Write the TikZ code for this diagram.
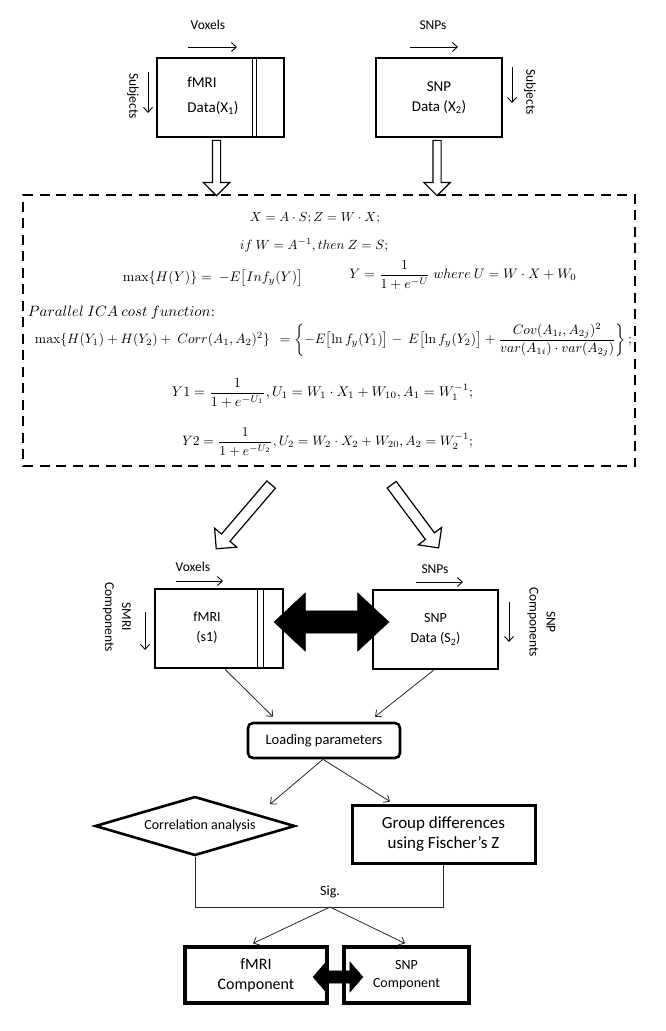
\documentclass[tikz,border=0pt]{standalone}
\usepackage[no-math]{fontspec}
\setmainfont{Carlito}
\usepackage{amsmath}
\usepackage{graphicx}
\usetikzlibrary{shapes.geometric,shapes.arrows,arrows.meta,calc}
\begin{document}
\begin{tikzpicture}[x=1pt,y=-1pt,
  thickbox/.style={draw, line width=2.6pt, inner sep=0pt, align=center},
  lbl/.style={font=\fontsize{13.5}{17}\selectfont, inner sep=0pt, align=center},
  boxtxt/.style={font=\fontsize{15}{20}\selectfont, inner sep=0pt, align=center},
  eqn/.style={inner sep=0pt},
  thinarrow/.style={line width=0.9pt, -{Straight Barb[length=5pt,width=9pt]}},
  conn/.style={line width=0.8pt, black!85, -{Straight Barb[length=5pt,width=9pt]}},
  plainline/.style={line width=0.8pt, black!85},
  hollow/.style={single arrow, draw, line width=1.2pt, fill=white, inner xsep=0pt,
    single arrow tip angle=90, single arrow head indent=0pt},
  blackarrow/.style={double arrow, fill=black, draw=black, inner xsep=0pt, double arrow head indent=0pt}
]
\useasboundingbox (0,0) rectangle (666,1031);

% ---------- top boxes ----------
\node[thickbox, minimum width=127pt, minimum height=79pt] (fmri1) at (220.5,97.5) {};
\draw[line width=0.8pt] ([xshift=31.5pt]fmri1.north) -- ([xshift=31.5pt]fmri1.south);
\draw[line width=0.8pt] ([xshift=35.5pt]fmri1.north) -- ([xshift=35.5pt]fmri1.south);
\node[boxtxt] (fmri1a) at (202,82) {fMRI};
\node[boxtxt] (fmri1b) at (213,108) {Data(X\textsubscript{1})};

\node[thickbox, boxtxt, minimum width=126pt, minimum height=79pt] (snp1) at (439,97.5) {SNP\\Data (X\textsubscript{2})};

\node[lbl] (vox1) at (208,25) {Voxels};
\coordinate (vox1a) at (188,47); \coordinate (vox1b) at (237,47);
\draw[thinarrow] (vox1a) -- (vox1b);
\node[lbl, rotate=-90] (subj1) at (133,96) {Subjects};
\coordinate (subj1a) at (148,72); \coordinate (subj1b) at (148,113);
\draw[thinarrow] (subj1a) -- (subj1b);

\node[lbl] (snps1) at (433,25) {SNPs};
\coordinate (snps1a) at (410,47); \coordinate (snps1b) at (458,47);
\draw[thinarrow] (snps1a) -- (snps1b);
\node[lbl, rotate=-90] (subj2) at (530,92) {Subjects};
\coordinate (subj2a) at (512,67); \coordinate (subj2b) at (512,103);
\draw[thinarrow] (subj2a) -- (subj2b);

% ---------- dashed ICA box ----------
\node[draw, line width=2.8pt, dash pattern=on 10pt off 6.5pt, minimum width=612pt, minimum height=271pt, inner sep=0pt] (ica) at (329,330.5) {};

\node[eqn] (e1) at (315,218) {\resizebox{130pt}{!}{$X = A\cdot S; Z = W\cdot X;$}};
\node[eqn] (e2) at (314,245) {\resizebox{148pt}{!}{$if\ W = A^{-1}, then\ Z = S;$}};
\node[eqn] (e3) at (213,278) {\resizebox{180pt}{!}{$\max\{H(Y)\} =\ -E\bigl[Inf_y(Y)\bigr]$}};
\node[eqn] (e4) at (463,275) {\resizebox{227pt}{!}{$Y = \dfrac{1}{1+e^{-U}}\ where\ U = W\cdot X + W_0$}};
\node[eqn] (e5) at (121.5,313) {\resizebox{187pt}{!}{$Parallel\ ICA\ cost\ function{:}$}};
\node[eqn] (e6) at (333.5,340) {\resizebox{597pt}{!}{$\max\{H(Y_1) + H(Y_2) +\ Corr(A_1,A_2)^2\}\ \ = \left\{-E\bigl[\ln f_y(Y_1)\bigr] -\ E\bigl[\ln f_y(Y_2)\bigr] + \dfrac{Cov(A_{1i},A_{2j})^2}{var(A_{1i})\cdot var(A_{2j})}\right\};$}};
\node[eqn] (e7) at (322.5,393) {\resizebox{301pt}{!}{$Y1 = \dfrac{1}{1+e^{-U_1}}, U_1 = W_1\cdot X_1 + W_{10}, A_1 = W_1^{-1};$}};
\node[eqn] (e8) at (327.5,442) {\resizebox{291pt}{!}{$Y2 = \dfrac{1}{1+e^{-U_2}}, U_2 = W_2\cdot X_2 + W_{20}, A_2 = W_2^{-1};$}};

% hollow arrows into the ICA box
\coordinate (h1a) at ([xshift=-4pt]fmri1.south);
\coordinate (h1b) at (h1a |- ica.north);
\coordinate (h2a) at ([xshift=-2pt]snp1.south);
\coordinate (h2b) at (h2a |- ica.north);
\foreach \a/\b in {h1a/h1b, h2a/h2b}{
  \path let \p1=($(\b)-(\a)$), \n1={veclen(\x1,\y1)} in
    (\a) -- (\b) node[hollow, midway, sloped, allow upside down, minimum height=\n1, inner ysep=3.5pt, minimum width=25pt, single arrow head extend=9pt] {};
}

% ---------- lower boxes ----------
\node[thickbox, minimum width=128pt, minimum height=79pt] (fmri2) at (219,628.5) {};
\draw[line width=0.8pt] ([xshift=38pt]fmri2.north) -- ([xshift=38pt]fmri2.south);
\draw[line width=0.8pt] ([xshift=44pt]fmri2.north) -- ([xshift=44pt]fmri2.south);
\node[boxtxt, font=\fontsize{14}{20}\selectfont] (fmri2t) at (207,628) {fMRI\\(s1)};

\node[thickbox, minimum width=125pt, minimum height=79pt, font=\fontsize{14}{20}\selectfont] (snp2) at (435.5,629.5) {SNP\\Data (S\textsubscript{2})};

\node[lbl] (vox2) at (193,567) {Voxels};
\coordinate (vox2a) at (176,581); \coordinate (vox2b) at (223,581);
\draw[thinarrow] (vox2a) -- (vox2b);
\node[lbl, rotate=-90] (comp1) at (117,617) {SMRI\\Components};
\coordinate (comp1a) at (145,612); \coordinate (comp1b) at (145,650);
\draw[thinarrow] (comp1a) -- (comp1b);

\node[lbl] (snps2) at (435,569) {SNPs};
\coordinate (snps2a) at (416,582); \coordinate (snps2b) at (463,582);
\draw[thinarrow] (snps2a) -- (snps2b);
\node[lbl, rotate=-90] (comp2) at (541.5,622) {SNP\\Components};
\coordinate (comp2a) at (509,602); \coordinate (comp2b) at (509,642);
\draw[thinarrow] (comp2a) -- (comp2b);

% diagonal hollow arrows out of ICA box
\coordinate (d1a) at ([xshift=-56pt,yshift=-15pt]ica.south);
\coordinate (d1b) at ([xshift=-1pt,yshift=41pt]fmri2.north);
\coordinate (d2a) at ([xshift=61pt,yshift=-15pt]ica.south);
\coordinate (d2b) at ([xshift=1.5pt,yshift=43pt]snp2.north);
\foreach \a/\b in {d1a/d1b, d2a/d2b}{
  \path let \p1=($(\b)-(\a)$), \n1={veclen(\x1,\y1)} in
    (\a) -- (\b) node[hollow, midway, sloped, allow upside down, minimum height=\n1, inner ysep=5pt, minimum width=28pt, single arrow head extend=9pt] {};
}

% big black double arrow
\node[blackarrow, minimum height=115pt, inner ysep=11pt, minimum width=58pt, double arrow head extend=18pt, double arrow tip angle=86] (big) at ([xshift=3.5pt,yshift=7pt]$(fmri2.east)!0.5!(snp2.west)$) {};

% ---------- flow part ----------
\node[draw, line width=2.6pt, rounded corners=5pt, minimum width=152pt, minimum height=35pt, font=\fontsize{14.5}{17}\selectfont] (load) at (324,740.5) {Loading parameters};
\draw[conn] ([xshift=6pt]fmri2.south) -- ([xshift=-51pt,yshift=5pt]load.north);
\draw[conn] ([xshift=-2pt]snp2.south) -- ([xshift=51pt,yshift=5pt]load.north);

\node[diamond, draw, line width=2.6pt, aspect=3.4, inner sep=0pt, minimum width=200pt, minimum height=59pt, font=\fontsize{14}{17}\selectfont] (corr) at (195,826) {\hspace*{10pt}Correlation analysis};
\node[thickbox, line width=3pt, minimum width=183pt, minimum height=58pt, font=\fontsize{17}{20}\selectfont] (grp) at (443.5,834) {Group differences\\using Fischer’s Z};

\draw[conn] ([xshift=-1pt]load.south) -- ([xshift=75pt,yshift=-9pt]corr.north);
\draw[conn] ([xshift=-1pt]load.south) -- ([xshift=-53.5pt,yshift=2pt]grp.north);

\coordinate (sig) at (330,907);
\coordinate (sigL) at (corr.south |- sig);
\coordinate (sigR) at (grp.south |- sig);
\draw[plainline] (corr.south) -- (sigL) -- (sigR) -- (grp.south);
\node[lbl, font=\fontsize{14}{17}\selectfont] (sigt) at (330,892) {Sig.};

\node[thickbox, line width=3.2pt, minimum width=142pt, minimum height=56pt, font=\fontsize{16}{20}\selectfont] (fc) at (256,975) {fMRI\\Component};
\node[thickbox, line width=3.2pt, minimum width=125pt, minimum height=56pt, font=\fontsize{14}{18}\selectfont] (sc) at (406.5,975) {SNP\\Component};

\draw[conn] (sig) -- ([xshift=-3pt,yshift=2pt]fc.north);
\draw[conn] (sig) -- ([xshift=-1.5pt,yshift=2pt]sc.north);

\node[blackarrow, minimum height=50pt, inner ysep=6pt, minimum width=30pt, double arrow head extend=9pt, double arrow tip angle=98] (small) at ([xshift=2.5pt,yshift=-2pt]$(fc.east)!0.5!(sc.west)$) {};
\end{tikzpicture}
\end{document}
